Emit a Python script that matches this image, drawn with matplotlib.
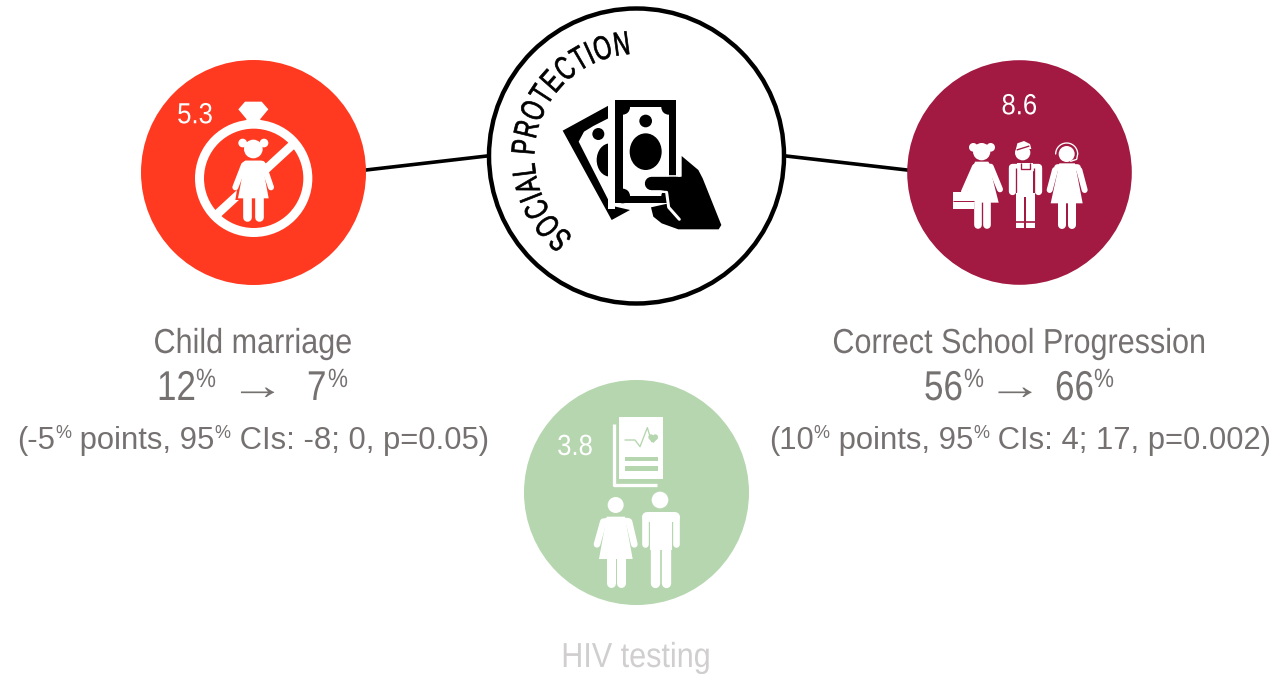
import numpy as np
import matplotlib
matplotlib.use("Agg")
import matplotlib.pyplot as plt
from matplotlib.patches import Circle, Ellipse, Polygon, Rectangle
from matplotlib.patheffects import AbstractPathEffect
from matplotlib.transforms import Affine2D

# values
outcomes = ["Child marriage", "Correct School Progression", "HIV testing"]
sdg_targets = ["5.3", "8.6", "3.8"]
before_pct = [12, 56]
after_pct = [7, 66]
effect_pct = [-5, 10]
ci_low = [-8, 4]
ci_high = [0, 17]
p_values = ["0.05", "0.002"]
hub_label = "SOCIAL PROTECTION"

RED = "#FF3A21"
CRIMSON = "#A21942"
GREEN = "#B5D6AE"
GREY = "#767171"
PALE = "#D0CECE"
SANS = "Liberation Sans"

fig = plt.figure(figsize=(12.74, 6.74), dpi=100)
ax = fig.add_axes([0, 0, 1, 1])
ax.set_xlim(0, 1274)
ax.set_ylim(674, 0)
ax.axis("off")
renderer = fig.canvas.get_renderer()


class Squeeze(AbstractPathEffect):
    """Scale glyphs along the text direction; no condensed Arial is installed."""

    def __init__(self, sx, stroke=0.0):
        super().__init__()
        self.sx = sx
        self.stroke = stroke

    def draw_path(self, renderer, gc, tpath, affine, rgbFace=None):
        if self.stroke:
            gc.set_linewidth(self.stroke)
        renderer.draw_path(gc, tpath, Affine2D().scale(self.sx, 1) + affine, rgbFace)


# icons were measured on 3x crops, so their coordinates are crop pixels
def to_px(pts, o):
    return [(o[0] + x / 3, o[1] + y / 3) for x, y in pts]


def poly(pts, o, color, z=3):
    ax.add_patch(Polygon(to_px(pts, o), closed=True, fc=color, ec="none", zorder=z))


def limb(pts, o, width, color, z=3, cap="round"):
    xy = np.array(to_px(pts, o))
    ax.plot(xy[:, 0], xy[:, 1], color=color, lw=width / 3 * 0.72,
            solid_capstyle=cap, solid_joinstyle="round", zorder=z)


def disc(x, y, r, o, color, z=3, ry=None):
    cx, cy = to_px([(x, y)], o)[0]
    ax.add_patch(Ellipse((cx, cy), 2 * r / 3, 2 * (ry or r) / 3, fc=color, ec="none", zorder=z))


def rect(x0, y0, x1, y1, o, color, z=3):
    px0, py0 = to_px([(x0, y0)], o)[0]
    ax.add_patch(Rectangle((px0, py0), (x1 - x0) / 3, (y1 - y0) / 3, fc=color, ec="none", zorder=z))


def advance(s, size):
    # ink extents drop trailing blanks, so measure against a bar
    probe = ax.text(0, 0, s + "|", fontsize=size, family=SANS)
    bar = ax.text(0, 0, "|", fontsize=size, family=SANS)
    w = probe.get_window_extent(renderer).width - bar.get_window_extent(renderer).width
    probe.remove()
    bar.remove()
    return w


def label(x, base, s, size, sx=1.0, color=GREY, centre=False, z=5):
    # always left anchored, the squeeze pivots on the text origin
    if centre:
        x = x - advance(s, size) * sx / 2
    t = ax.text(x, base, s, fontsize=size, family=SANS, color=color,
                ha="left", va="baseline", zorder=z)
    if sx != 1.0:
        t.set_path_effects([Squeeze(sx)])
    return t


def runs(parts, cx, base, size, sup_size, sup_rise):
    widths = [advance(s, sup_size if sup else size) for s, sup in parts]
    x = cx - sum(widths) / 2
    for (s, sup), w in zip(parts, widths):
        label(x, base - (sup_rise if sup else 0), s, sup_size if sup else size)
        x += w


# connectors and circles
ax.plot([366, 487], [170, 156], color="black", lw=2.6, zorder=1)
ax.plot([786, 907], [156, 170], color="black", lw=2.6, zorder=1)
ax.add_patch(Circle((253.5, 172.5), 112.5, fc=RED, ec="none", zorder=2))
ax.add_patch(Circle((1019.5, 172.5), 112.3, fc=CRIMSON, ec="none", zorder=2))
ax.add_patch(Circle((636.5, 492.5), 112.5, fc=GREEN, ec="none", zorder=2))
ax.add_patch(Circle((636.5, 156), 147.5, fc="white", ec="black", lw=3.2, zorder=2))

# circular hub label, letter by letter
HUB_SIZE = 24
HUB_SX = 0.68
letter_w = [advance(c, HUB_SIZE) for c in hub_label]
edges = np.cumsum([0] + letter_w)
mids = (edges[:-1] + edges[1:]) / 2
bearings = -137.7 + (mids - mids[0]) / (mids[-1] - mids[0]) * 130.1
cap_h = 0.716 * HUB_SIZE / 0.72
for ch, w, b in zip(hub_label, letter_w, bearings):
    t = np.deg2rad(b)
    along = np.array([np.cos(t), np.sin(t)])
    outward = np.array([np.sin(t), -np.cos(t)])
    pos = np.array([636.5, 156]) + 114 * outward - along * w * HUB_SX / 2 - outward * cap_h / 2
    ax.text(pos[0], pos[1], ch, rotation=-b, rotation_mode="anchor", ha="left", va="baseline",
            fontsize=HUB_SIZE, family=SANS, color="black", zorder=4,
            path_effects=[Squeeze(HUB_SX, stroke=0.5)])

# money in hand
o = (480, 0)
poly([(248, 392), (385, 317), (385, 615), (450, 630), (395, 660)], o, "black")
poly([(296, 425), (312, 395), (340, 378), (385, 355), (385, 600)], o, "white", z=3.1)
disc(355, 402, 18, o, "black", z=3.2)
disc(390, 480, 40, o, "black", z=3.2, ry=50)
rect(385, 300, 405, 628, o, "white", z=3.3)
rect(405, 300, 588, 610, o, "black", z=3.4)
rect(428, 322, 566, 588, o, "white", z=3.5)
for x, y in [(428, 322), (566, 322), (428, 588), (566, 588)]:
    disc(x, y, 22, o, "black", z=3.6)
disc(497, 363, 19, o, "black", z=3.7)
disc(497, 455, 48, o, "black", z=3.7, ry=55)
rect(588, 300, 605, 530, o, "white", z=3.7)
poly([(605, 468), (655, 510), (668, 535), (724, 675), (716, 688), (595, 688),
      (545, 670), (520, 650), (513, 622), (566, 610), (566, 575), (540, 570),
      (590, 530), (605, 530)], o, "black", z=3.8)
limb([(514, 549), (590, 549)], o, 40, "black", z=3.9)
limb([(560, 578), (566, 622), (598, 658)], o, 9, "white", z=3.95)
limb([(495, 527), (600, 527)], o, 5, "white", z=3.85)
limb([(500, 573), (560, 576)], o, 7, "white", z=3.85)

# child marriage icon
o = (130, 70)
W = "white"
disc(371, 325, 176, o, W, z=2.5)
disc(371, 325, 149, o, RED, z=2.6)
limb([(262, 432), (490, 222)], o, 26, W, z=2.7, cap="butt")
poly([(325, 118), (345, 95), (395, 95), (415, 118), (390, 148), (402, 160), (340, 160), (350, 148)], o, W)
disc(370, 237, 28, o, W)
disc(338, 219, 13, o, W)
disc(402, 219, 13, o, W)
poly([(336, 268), (404, 268), (424, 390), (316, 390)], o, RED, z=2.9)
poly([(345, 272), (395, 272), (416, 385), (324, 385)], o, W)
limb([(345, 280), (395, 280)], o, 16, W)
limb([(342, 285), (316, 352)], o, 18, W)
limb([(400, 285), (423, 352)], o, 18, W)
limb([(352, 385), (352, 442)], o, 26, W)
limb([(386, 385), (386, 442)], o, 26, W)
label(195, 123.3, sdg_targets[0], 21, sx=0.88, color=W, centre=True)

# school progression icon
o = (900, 70)
# girl with case
disc(245, 245, 26, o, W)
disc(220, 232, 13, o, W)
disc(272, 232, 13, o, W)
poly([(225, 275), (265, 275), (296, 398), (192, 398)], o, W)
limb([(232, 285), (262, 285)], o, 18, W)
limb([(225, 290), (192, 365)], o, 18, W)
limb([(272, 290), (300, 358)], o, 18, W)
limb([(234, 398), (234, 465)], o, 23, W)
limb([(261, 398), (261, 465)], o, 23, W)
rect(158, 366, 222, 416, o, W)
limb([(158, 392), (222, 392)], o, 3, CRIMSON, z=3.2, cap="butt")
# boy in overalls
disc(368, 248, 23, o, W)
poly([(348, 237), (352, 220), (372, 213), (390, 222), (394, 237)], o, W)
limb([(350, 240), (388, 228)], o, 4, CRIMSON, z=3.2, cap="butt")
limb([(335, 295), (335, 362)], o, 22, W)
limb([(414, 295), (414, 362)], o, 22, W)
limb([(335, 290), (414, 290)], o, 22, W)
rect(350, 278, 400, 375, o, W)
limb([(347, 295), (347, 365)], o, 4, CRIMSON, z=3.2, cap="butt")
limb([(402, 295), (402, 365)], o, 4, CRIMSON, z=3.2, cap="butt")
limb([(362, 280), (362, 298), (390, 298), (390, 280)], o, 4, CRIMSON, z=3.2, cap="butt")
rect(348, 370, 405, 474, o, W)
limb([(376, 380), (376, 475)], o, 6, CRIMSON, z=3.2, cap="butt")
limb([(348, 455), (405, 455)], o, 5, CRIMSON, z=3.2, cap="butt")
# girl with headset
disc(500, 252, 24, o, W)
t = np.linspace(np.pi, 2 * np.pi, 30)
limb(list(zip(500 + 33 * np.cos(t), 252 + 33 * np.sin(t))), o, 4, W)
limb([(533, 252), (530, 268), (512, 274)], o, 4, W)
poly([(478, 280), (525, 280), (548, 400), (452, 400)], o, W)
limb([(470, 292), (532, 292)], o, 20, W)
limb([(465, 300), (449, 360)], o, 18, W)
limb([(538, 300), (554, 360)], o, 18, W)
limb([(485, 400), (485, 465)], o, 24, W)
limb([(515, 400), (515, 465)], o, 24, W)
label(1019.3, 114.3, sdg_targets[1], 21, sx=0.88, color=W, centre=True)

# HIV testing icon
o = (515, 375)
limb([(296, 148), (296, 330), (425, 330)], o, 10, W, cap="butt")
rect(312, 125, 445, 312, o, W)
limb([(330, 195), (360, 195), (375, 215), (397, 158), (410, 200)], o, 4, GREEN, z=3.2)
disc(408, 186, 8, o, GREEN, z=3.2)
disc(421, 186, 8, o, GREEN, z=3.2)
poly([(400, 190), (429, 190), (415, 204)], o, GREEN, z=3.2)
rect(330, 245, 428, 258, o, GREEN, z=3.2)
rect(330, 272, 428, 288, o, GREEN, z=3.2)
disc(302, 390, 24, o, W)
poly([(275, 425), (330, 425), (353, 552), (252, 552)], o, W)
limb([(272, 438), (335, 438)], o, 22, W)
limb([(265, 440), (246, 508)], o, 20, W)
limb([(342, 440), (358, 508)], o, 20, W)
limb([(288, 552), (288, 625)], o, 27, W)
limb([(318, 552), (318, 625)], o, 27, W)
disc(435, 375, 25, o, W)
rect(405, 410, 470, 525, o, W)
limb([(395, 425), (480, 425)], o, 30, W)
limb([(391, 430), (391, 507)], o, 20, W)
limb([(482, 430), (482, 507)], o, 20, W)
limb([(420, 520), (420, 625)], o, 28, W)
limb([(452, 520), (452, 625)], o, 28, W)
label(575, 455, sdg_targets[2], 21, sx=0.88, color=W, centre=True)

# outcome text
label(253, 353, outcomes[0], 25, sx=0.88, centre=True)
label(1019.5, 353, outcomes[1], 25, sx=0.88, centre=True)
label(636, 667, outcomes[2], 25, sx=0.88, color=PALE, centre=True)


def big(x, s, sup_x):
    label(x, 400, s, 30, sx=0.84)
    label(sup_x, 387, "%", 19, sx=0.85)


big(157, str(before_pct[0]), 196)
label(257.5, 399, "→", 29, sx=1.39, centre=True)
big(307, str(after_pct[0]), 328)
big(924, str(before_pct[1]), 964)
label(1015, 399, "→", 29, sx=1.39, centre=True)
big(1055, str(after_pct[1]), 1094)

for i, cx in enumerate([253, 1020]):
    parts = [(f"({effect_pct[i]}", False), ("%", True), (" points, 95", False), ("%", True),
             (f" CIs: {ci_low[i]}; {ci_high[i]}, p={p_values[i]})", False)]
    runs(parts, cx, 449, 22.3, 13, 11)

fig.savefig("out.png", dpi=100)
